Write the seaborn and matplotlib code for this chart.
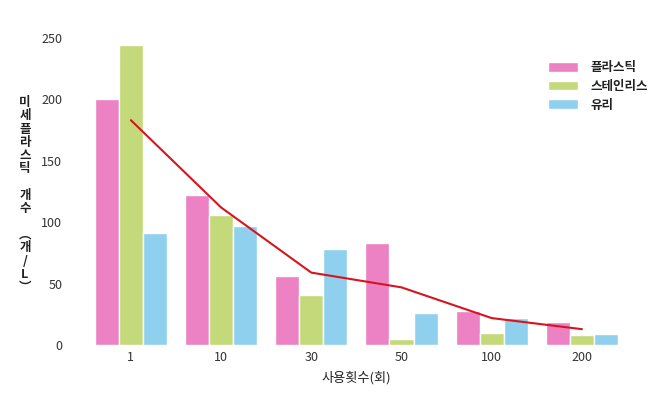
import matplotlib.pyplot as plt
import numpy as np
import pandas as pd
import seaborn as sns

# data
uses = ['1', '10', '30', '50', '100', '200']
plastic = [200, 122, 56, 83, 28, 19]
stainless = [244, 106, 41, 5, 10, 8]
glass = [91, 97, 78, 26, 22, 9]
trend = [183, 112, 59, 47, 22, 13]
series = ['플라스틱', '스테인리스', '유리']
colors = ['#EC82C3', '#C4D97A', '#8FD0EE']

df = pd.DataFrame({
    'use': uses * 3,
    'value': plastic + stainless + glass,
    'material': [s for s in series for _ in uses],
})

sns.set_theme(style='white')
plt.rcParams['font.family'] = ['Noto Sans CJK KR', 'DejaVu Sans']

fig, ax = plt.subplots(figsize=(6.6, 3.94), dpi=100)
fig.subplots_adjust(left=0.130, right=0.950, bottom=0.124, top=0.904)

sns.barplot(data=df, x='use', y='value', hue='material', order=uses,
            hue_order=series, palette=colors, width=0.8, saturation=1,
            edgecolor='white', linewidth=1, ax=ax)
ax.plot(np.arange(len(uses)), trend, color='#D7141E', linewidth=1.5)

ax.set_ylim(0, 250)
ax.set_xlim(-0.5, len(uses) - 0.5)
ax.set_yticks([0, 50, 100, 150, 200, 250])
sns.despine(ax=ax, left=True, bottom=True)
ax.tick_params(axis='both', length=0, labelsize=9, labelcolor='#333333')
ax.tick_params(axis='y', pad=17)
ax.tick_params(axis='x', pad=4)
ax.set_xlabel('사용횟수(회)', fontsize=9.5, color='#222222', labelpad=5)
ax.set_ylabel('')

ylab = '\n'.join(['미', '세', '플', '라', '스', '틱', ' ', '개', '수', ' ', '︵', '개', '/', 'L', '︶'])
fig.text(25 / 660, 0.505, ylab, ha='center', va='center', fontsize=9,
         fontweight='bold', color='#222222', linespacing=1.02)

leg = ax.legend(loc='upper right', bbox_to_anchor=(1.06, 0.96), frameon=False,
                fontsize=9, handlelength=2.4, handleheight=0.8,
                labelspacing=0.45, handletextpad=1.0)
for t in leg.get_texts():
    t.set_fontweight('bold')
    t.set_color('#222222')

fig.savefig('out.png', dpi=100)
